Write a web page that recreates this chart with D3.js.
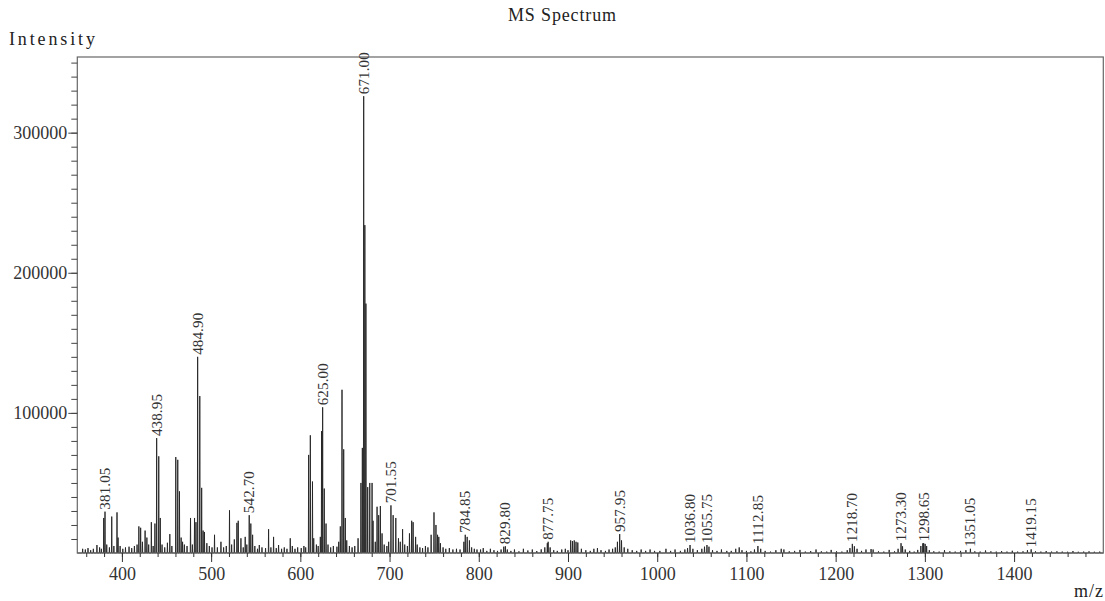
<!DOCTYPE html>
<html>
<head>
<meta charset="utf-8">
<script src="https://cdn.jsdelivr.net/npm/d3@7"></script>
<style>
  body { margin: 0; background: #fff; }
</style>
</head>
<body>
<script>
// peak list (m/z, intensity)
const peakMz = [
  356, 359, 362, 365, 368, 372, 375, 377, 379.6, 381.05, 383, 386, 388.6, 391, 394.5, 395.7, 398,
  401, 404, 408, 411, 414, 417, 419, 421, 423, 426, 428, 430, 433, 435, 437, 438.95, 441.3, 443, 445, 448, 451,
  453.7, 456, 460.4, 462.6, 464.5, 466.4, 468, 470, 473, 476.9, 479, 481.4, 483, 484.9, 487.3, 489.4, 491, 492.5, 495.2, 498,
  501, 503.8, 507, 511, 514, 517, 520.6, 523, 526, 528.9, 530.4, 533.4, 536, 538.2, 540, 542.7, 544.5, 546.5, 549,
  552, 554, 557, 561, 564.4, 567, 570, 573, 575.6, 579, 582, 585, 588.7, 591, 594, 597,
  601, 604, 606, 609.3, 611.2, 613.6, 615, 618, 620, 622.4, 623.8, 625, 626.8, 628.8, 631, 634, 637, 641, 643, 644.8, 646.7, 648.6, 650.4, 652, 655, 658,
  661, 664.7, 667.9, 669.5, 671, 672.3, 673.5, 675.5, 677.8, 680.4, 681.5, 684, 686, 687.8, 689.7, 691.6, 694, 697, 699,
  701.55, 704, 707, 710, 712, 714.6, 717, 720, 722.3, 724.8, 726.4, 729.2, 731, 734, 737, 740.2, 743, 746.6, 749.8, 752, 753.8, 755.2, 757, 760, 763, 767, 771, 775, 779, 783.3, 784.85, 787, 789.5, 792, 795, 798,
  802, 805, 809, 813, 817, 821, 825, 828, 829.8, 832, 836, 840, 845, 850, 855, 860, 865, 870, 874, 876.8, 877.75, 880, 884, 888, 893, 897, 900,
  903, 905, 907, 909, 911, 915, 920, 925, 929, 933, 937, 942, 946, 950, 953, 955.4, 957.95, 960, 963, 967, 972, 977, 982, 987, 992, 997,
  1003, 1009.8, 1015, 1020, 1026, 1031, 1034, 1036.8, 1040, 1045, 1050, 1053, 1055.75, 1058, 1062, 1067, 1072, 1078, 1083, 1088, 1091.9, 1095, 1100,
  1105, 1109, 1112.85, 1116, 1121, 1127, 1133, 1139, 1142, 1148, 1154, 1160, 1166, 1172, 1178, 1184, 1190, 1195,
  1201, 1207, 1213, 1216, 1218.7, 1221, 1224, 1229, 1234, 1239.7, 1242, 1248, 1254, 1260, 1266, 1270, 1273.3, 1275, 1278, 1283, 1288, 1292, 1295.5, 1297.7, 1298.65, 1300.3, 1302, 1305,
  1310, 1316, 1322, 1328, 1334, 1340, 1346, 1351.05, 1356, 1362, 1368, 1374, 1380, 1386, 1392, 1398, 1404, 1410, 1415, 1419.15, 1424, 1430, 1436, 1442, 1448, 1454, 1460, 1466, 1472, 1478, 1484, 1490, 1496
];
const peakIntensity = [
  3000, 2500, 3500, 2000, 3000, 5700, 4000, 3000, 25000, 29500, 6000, 4000, 26000, 5000, 29000, 11000, 5000,
  3000, 4000, 4500, 3500, 5000, 6000, 19000, 18000, 8000, 16000, 11000, 6000, 22000, 5000, 21000, 82000, 69000, 25000, 6000, 4000, 7300,
  13500, 5000, 68500, 66500, 44000, 11000, 8000, 6000, 5000, 25000, 6000, 25000, 22000, 140000, 112000, 46500, 16000, 15000, 7000, 5000,
  4000, 13000, 4000, 8000, 4000, 5000, 30500, 6000, 9700, 21500, 23000, 10500, 4000, 11500, 6000, 27000, 21000, 13000, 5000,
  3000, 5700, 4000, 3500, 17000, 4000, 11500, 3500, 5700, 3000, 4000, 3000, 10500, 5000, 3000, 4000,
  3500, 5000, 4000, 70000, 84000, 51000, 10500, 6000, 5000, 11500, 87000, 104000, 46000, 21000, 6000, 4000, 5000, 4500, 8000, 19000, 116500, 74000, 25000, 9000, 5000, 4000,
  5000, 10500, 50000, 75000, 326000, 234000, 178000, 47000, 50000, 50000, 23000, 8000, 33000, 27000, 33500, 14000, 6000, 5000, 8000,
  34000, 27000, 25000, 10500, 8000, 17000, 6000, 5000, 14000, 23000, 22000, 11500, 6000, 4000, 3500, 5000, 4000, 13000, 29000, 20000, 13000, 11500, 7000, 4000, 3000, 3500, 2500, 3000, 2500, 8000, 13000, 11500, 9000, 4000, 3000, 2500,
  2500, 3500, 1500, 3000, 2000, 1500, 2500, 4500, 4800, 2500, 1500, 2500, 1200, 3000, 1800, 2500, 1400, 2600, 4000, 7000, 8000, 4000, 2000, 1500, 2500, 3000, 2000,
  9000, 8500, 9000, 8000, 7500, 3000, 2000, 1500, 3000, 3500, 2000, 1500, 2500, 3000, 4000, 8000, 13500, 9000, 4000, 3000, 2000, 1500, 2500, 1500, 2500, 1500,
  1500, 3000, 1500, 2500, 1500, 2500, 3500, 5700, 3000, 2000, 3000, 4500, 5700, 4500, 2000, 1500, 2500, 1500, 1500, 3000, 4000, 2000, 1500,
  1200, 2500, 5000, 3000, 1500, 1000, 2000, 3000, 2500, 1200, 1500, 2200, 1000, 1400, 2500, 1200, 1000, 2200,
  1200, 1000, 2000, 3500, 6500, 4800, 3000, 1500, 2500, 2800, 2500, 1200, 1000, 2200, 1200, 3000, 7000, 4800, 2500, 1500, 1000, 2200, 5000, 6900, 7000, 6500, 5000, 2000,
  1200, 1000, 2000, 1200, 1000, 1500, 2000, 3000, 1200, 1000, 1800, 1200, 1000, 1400, 1000, 1600, 1000, 1200, 2000, 2600, 1200, 1000, 1400, 1000, 1200, 1000, 900, 1400, 900, 1000, 1200, 900, 1000
];
const labelMz = [381.05, 438.95, 484.90, 542.70, 625.00, 671.00, 701.55, 784.85, 829.80, 877.75,
  957.95, 1036.80, 1055.75, 1112.85, 1218.70, 1273.30, 1298.65, 1351.05, 1419.15];
const xMajor = [400, 500, 600, 700, 800, 900, 1000, 1100, 1200, 1300, 1400];
const yMajor = [100000, 200000, 300000];

window.onload = function () {
  let width = 1105;
  let height = 601;
  let left = 77.3, right = 1103.3, top = 57, bottom = 553;

  let svg = d3.select("body").append("svg")
    .attr("width", width)
    .attr("height", height);

  let x = d3.scaleLinear().domain([350, 1500]).range([left, right]);
  let y = d3.scaleLinear().domain([0, 354000]).range([bottom, top]);

  // title and axis names (serif glyphs, mono-like spacing)
  function monoText(tx, ty, str, len) {
    return svg.append("text")
      .attr("x", tx).attr("y", ty)
      .attr("font-family", "Liberation Serif")
      .attr("font-size", 18)
      .attr("fill", "#222")
      .attr("textLength", len)
      .attr("lengthAdjust", "spacing")
      .text(str);
  }
  monoText(508, 21, "MS Spectrum", 108);
  monoText(9, 45, "Intensity", 86);
  monoText(1074, 597, "m/z", 29);

  // spectrum as a profile line
  let pts = [];
  let order = d3.range(peakMz.length).sort((a, b) => peakMz[a] - peakMz[b]);
  pts.push([350, 0]);
  order.forEach(function (i) {
    pts.push([peakMz[i] - 0.3, 0]);
    pts.push([peakMz[i], peakIntensity[i]]);
    pts.push([peakMz[i] + 0.3, 0]);
  });
  pts.push([1500, 0]);
  let line = d3.line()
    .x(d => x(d[0]))
    .y(d => y(d[1]));
  svg.append("path")
    .attr("d", line(pts))
    .attr("fill", "none")
    .attr("stroke", "#222")
    .attr("stroke-width", 0.9);

  // frame
  svg.append("rect")
    .attr("x", left).attr("y", top)
    .attr("width", right - left).attr("height", bottom - top)
    .attr("fill", "none")
    .attr("stroke", "#666")
    .attr("stroke-width", 1.2);

  // x axis: minor ticks every 20, major every 100
  svg.append("g")
    .attr("transform", `translate(0, ${bottom})`)
    .call(d3.axisBottom(x).tickValues(d3.range(360, 1500, 20)).tickSize(4).tickFormat(""))
    .call(g => g.select(".domain").remove())
    .call(g => g.selectAll("line").attr("stroke", "#333"));
  svg.append("g")
    .attr("transform", `translate(0, ${bottom})`)
    .call(d3.axisBottom(x).tickValues(xMajor).tickSize(9).tickPadding(5).tickFormat(d3.format("d")))
    .call(g => g.select(".domain").remove())
    .call(g => g.selectAll("line").attr("stroke", "#333"))
    .call(g => g.selectAll("text")
      .attr("font-family", "Liberation Serif")
      .attr("font-size", 18)
      .attr("fill", "#333"));

  // y axis: minor ticks every 10000, major every 100000
  svg.append("g")
    .attr("transform", `translate(${left}, 0)`)
    .call(d3.axisLeft(y).tickValues(d3.range(10000, 354000, 10000)).tickSize(6).tickFormat(""))
    .call(g => g.select(".domain").remove())
    .call(g => g.selectAll("line").attr("stroke", "#444"));
  svg.append("g")
    .attr("transform", `translate(${left}, 0)`)
    .call(d3.axisLeft(y).tickValues(yMajor).tickSize(9).tickPadding(1).tickFormat(d3.format("d")))
    .call(g => g.select(".domain").remove())
    .call(g => g.selectAll("line").attr("stroke", "#444"))
    .call(g => g.selectAll("text")
      .attr("font-family", "Liberation Serif")
      .attr("font-size", 18)
      .attr("fill", "#333"));

  // peak labels, rotated
  svg.append("g")
    .selectAll("text")
    .data(labelMz)
    .join("text")
    .attr("transform", function (d) {
      let i = peakMz.findIndex(m => Math.abs(m - d) < 0.01);
      return `translate(${x(d) + 5}, ${y(peakIntensity[i]) - 2}) rotate(-90)`;
    })
    .attr("font-family", "Liberation Serif")
    .attr("font-size", 15)
    .attr("fill", "#333")
    .attr("textLength", d => d.toFixed(2).length * 7)
    .attr("lengthAdjust", "spacing")
    .text(d => d.toFixed(2));
};
</script>
</body>
</html>
